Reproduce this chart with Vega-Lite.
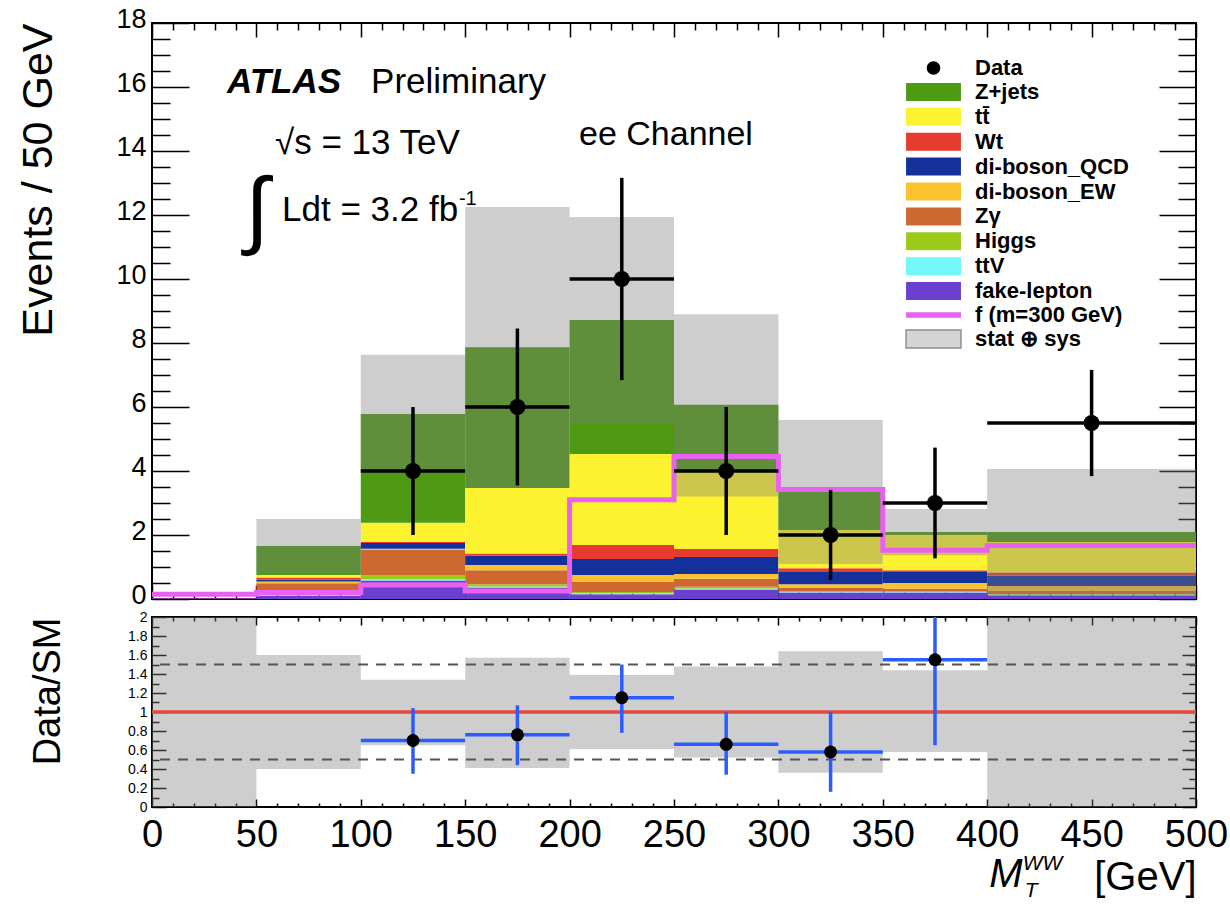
{
  "$schema": "https://vega.github.io/schema/vega-lite/v6.json",
  "background": "white",
  "padding": {"left": 16, "top": 4, "right": 5, "bottom": 5},
  "spacing": 18,
  "bounds": "flush",
  "config": {
    "view": {"stroke": "black", "strokeWidth": 2},
    "font": "Liberation Sans",
    "axis": {"domain": false, "grid": false, "tickColor": "black", "tickWidth": 1.5, "labelColor": "black", "titleColor": "black", "labelFont": "Liberation Sans", "titleFont": "Liberation Sans", "titleFontWeight": "normal", "labelFlush": false, "labelOverlap": false, "labelBound": false}
  },
  "datasets": {
    "stack": [
      {"lo": 0, "hi": 50, "process": "fake-lepton", "value": 0.02},
      {"lo": 0, "hi": 50, "process": "Zγ", "value": 0.01},
      {"lo": 50, "hi": 100, "process": "fake-lepton", "value": 0.1},
      {"lo": 50, "hi": 100, "process": "ttV", "value": 0.01},
      {"lo": 50, "hi": 100, "process": "Higgs", "value": 0.03},
      {"lo": 50, "hi": 100, "process": "Zγ", "value": 0.35},
      {"lo": 50, "hi": 100, "process": "di-boson_EW", "value": 0.06},
      {"lo": 50, "hi": 100, "process": "di-boson_QCD", "value": 0.06},
      {"lo": 50, "hi": 100, "process": "Wt", "value": 0.06},
      {"lo": 50, "hi": 100, "process": "tt̄", "value": 0.08},
      {"lo": 50, "hi": 100, "process": "Z+jets", "value": 0.91},
      {"lo": 100, "hi": 150, "process": "fake-lepton", "value": 0.58},
      {"lo": 100, "hi": 150, "process": "ttV", "value": 0.04},
      {"lo": 100, "hi": 150, "process": "Higgs", "value": 0.13},
      {"lo": 100, "hi": 150, "process": "Zγ", "value": 0.78},
      {"lo": 100, "hi": 150, "process": "di-boson_EW", "value": 0.04},
      {"lo": 100, "hi": 150, "process": "di-boson_QCD", "value": 0.18},
      {"lo": 100, "hi": 150, "process": "Wt", "value": 0.04},
      {"lo": 100, "hi": 150, "process": "tt̄", "value": 0.59},
      {"lo": 100, "hi": 150, "process": "Z+jets", "value": 3.4},
      {"lo": 150, "hi": 200, "process": "fake-lepton", "value": 0.36},
      {"lo": 150, "hi": 200, "process": "ttV", "value": 0.03},
      {"lo": 150, "hi": 200, "process": "Higgs", "value": 0.07},
      {"lo": 150, "hi": 200, "process": "Zγ", "value": 0.44},
      {"lo": 150, "hi": 200, "process": "di-boson_EW", "value": 0.16},
      {"lo": 150, "hi": 200, "process": "di-boson_QCD", "value": 0.3},
      {"lo": 150, "hi": 200, "process": "Wt", "value": 0.06},
      {"lo": 150, "hi": 200, "process": "tt̄", "value": 2.05},
      {"lo": 150, "hi": 200, "process": "Z+jets", "value": 4.4},
      {"lo": 200, "hi": 250, "process": "fake-lepton", "value": 0.15},
      {"lo": 200, "hi": 250, "process": "ttV", "value": 0.03},
      {"lo": 200, "hi": 250, "process": "Higgs", "value": 0.04},
      {"lo": 200, "hi": 250, "process": "Zγ", "value": 0.31},
      {"lo": 200, "hi": 250, "process": "di-boson_EW", "value": 0.22},
      {"lo": 200, "hi": 250, "process": "di-boson_QCD", "value": 0.5},
      {"lo": 200, "hi": 250, "process": "Wt", "value": 0.44},
      {"lo": 200, "hi": 250, "process": "tt̄", "value": 2.84},
      {"lo": 200, "hi": 250, "process": "Z+jets", "value": 4.19},
      {"lo": 250, "hi": 300, "process": "fake-lepton", "value": 0.3},
      {"lo": 250, "hi": 300, "process": "ttV", "value": 0.03},
      {"lo": 250, "hi": 300, "process": "Higgs", "value": 0.05},
      {"lo": 250, "hi": 300, "process": "Zγ", "value": 0.25},
      {"lo": 250, "hi": 300, "process": "di-boson_EW", "value": 0.15},
      {"lo": 250, "hi": 300, "process": "di-boson_QCD", "value": 0.53},
      {"lo": 250, "hi": 300, "process": "Wt", "value": 0.25},
      {"lo": 250, "hi": 300, "process": "tt̄", "value": 2.41},
      {"lo": 250, "hi": 300, "process": "Z+jets", "value": 2.1},
      {"lo": 300, "hi": 350, "process": "fake-lepton", "value": 0.2},
      {"lo": 300, "hi": 350, "process": "ttV", "value": 0.02},
      {"lo": 300, "hi": 350, "process": "Higgs", "value": 0.02},
      {"lo": 300, "hi": 350, "process": "Zγ", "value": 0.1},
      {"lo": 300, "hi": 350, "process": "di-boson_EW", "value": 0.12},
      {"lo": 300, "hi": 350, "process": "di-boson_QCD", "value": 0.38},
      {"lo": 300, "hi": 350, "process": "Wt", "value": 0.12},
      {"lo": 300, "hi": 350, "process": "tt̄", "value": 1.2},
      {"lo": 300, "hi": 350, "process": "Z+jets", "value": 1.18},
      {"lo": 350, "hi": 400, "process": "fake-lepton", "value": 0.2},
      {"lo": 350, "hi": 400, "process": "ttV", "value": 0.02},
      {"lo": 350, "hi": 400, "process": "Higgs", "value": 0.02},
      {"lo": 350, "hi": 400, "process": "Zγ", "value": 0.08},
      {"lo": 350, "hi": 400, "process": "di-boson_EW", "value": 0.18},
      {"lo": 350, "hi": 400, "process": "di-boson_QCD", "value": 0.34},
      {"lo": 350, "hi": 400, "process": "Wt", "value": 0.06},
      {"lo": 350, "hi": 400, "process": "tt̄", "value": 1.1},
      {"lo": 350, "hi": 400, "process": "Z+jets", "value": 0.09},
      {"lo": 400, "hi": 500, "process": "fake-lepton", "value": 0.12},
      {"lo": 400, "hi": 500, "process": "ttV", "value": 0.02},
      {"lo": 400, "hi": 500, "process": "Higgs", "value": 0.02},
      {"lo": 400, "hi": 500, "process": "Zγ", "value": 0.1},
      {"lo": 400, "hi": 500, "process": "di-boson_EW", "value": 0.15},
      {"lo": 400, "hi": 500, "process": "di-boson_QCD", "value": 0.32},
      {"lo": 400, "hi": 500, "process": "Wt", "value": 0.1},
      {"lo": 400, "hi": 500, "process": "tt̄", "value": 0.95},
      {"lo": 400, "hi": 500, "process": "Z+jets", "value": 0.31}
    ],
    "band": [
      {"lo": 50, "hi": 100, "down": 0.82, "up": 2.5},
      {"lo": 100, "hi": 150, "down": 3.93, "up": 7.63},
      {"lo": 150, "hi": 200, "down": 3.49, "up": 12.25},
      {"lo": 200, "hi": 250, "down": 5.5, "up": 11.94},
      {"lo": 250, "hi": 300, "down": 3.2, "up": 8.9},
      {"lo": 300, "hi": 350, "down": 1.09, "up": 5.59},
      {"lo": 350, "hi": 400, "down": 1.37, "up": 2.81},
      {"lo": 400, "hi": 500, "down": 0.12, "up": 4.06}
    ],
    "sig": [
      {"edge": 0, "v": 0.15},
      {"edge": 50, "v": 0.2},
      {"edge": 100, "v": 0.44},
      {"edge": 150, "v": 0.25},
      {"edge": 200, "v": 3.1},
      {"edge": 250, "v": 4.45},
      {"edge": 300, "v": 3.42},
      {"edge": 350, "v": 1.52},
      {"edge": 400, "v": 1.67},
      {"edge": 500, "v": 1.67}
    ],
    "obs": [
      {"c": 125, "n": 4, "elo": 2, "ehi": 6, "xlo": 100, "xhi": 150},
      {"c": 175, "n": 6, "elo": 3.55, "ehi": 8.45, "xlo": 150, "xhi": 200},
      {"c": 225, "n": 10, "elo": 6.84, "ehi": 13.16, "xlo": 200, "xhi": 250},
      {"c": 275, "n": 4, "elo": 2, "ehi": 6, "xlo": 250, "xhi": 300},
      {"c": 325, "n": 2, "elo": 0.59, "ehi": 3.41, "xlo": 300, "xhi": 350},
      {"c": 375, "n": 3, "elo": 1.27, "ehi": 4.73, "xlo": 350, "xhi": 400},
      {"c": 450, "n": 5.5, "elo": 3.84, "ehi": 7.16, "xlo": 400, "xhi": 500}
    ],
    "ratio": [
      {"c": 125, "r": 0.7, "elo": 0.35, "ehi": 1.04, "xlo": 100, "xhi": 150},
      {"c": 175, "r": 0.76, "elo": 0.44, "ehi": 1.07, "xlo": 150, "xhi": 200},
      {"c": 225, "r": 1.15, "elo": 0.78, "ehi": 1.5, "xlo": 200, "xhi": 250},
      {"c": 275, "r": 0.66, "elo": 0.34, "ehi": 1.0, "xlo": 250, "xhi": 300},
      {"c": 325, "r": 0.58, "elo": 0.16, "ehi": 1.0, "xlo": 300, "xhi": 350},
      {"c": 375, "r": 1.55, "elo": 0.65, "ehi": 2.42, "xlo": 350, "xhi": 400}
    ],
    "rband": [
      {"lo": 0, "hi": 50, "down": 0, "up": 2},
      {"lo": 50, "hi": 100, "down": 0.4, "up": 1.6},
      {"lo": 100, "hi": 150, "down": 0.65, "up": 1.34},
      {"lo": 150, "hi": 200, "down": 0.41, "up": 1.57},
      {"lo": 200, "hi": 250, "down": 0.61, "up": 1.39},
      {"lo": 250, "hi": 300, "down": 0.52, "up": 1.48},
      {"lo": 300, "hi": 350, "down": 0.36, "up": 1.64},
      {"lo": 350, "hi": 400, "down": 0.58, "up": 1.44},
      {"lo": 400, "hi": 500, "down": 0, "up": 2}
    ],
    "dash": [{"r": 0.5}, {"r": 1.5}],
    "one": [{}]
  },
  "vconcat": [
    {
      "width": 1044,
      "height": 576,
      "resolve": {"axis": {"x": "independent", "y": "independent"}},
      "layer": [
        {
          "data": {"name": "stack"},
          "transform": [{"stack": "value", "groupby": ["lo"], "as": ["s0", "s1"]}],
          "mark": {"type": "rect"},
          "encoding": {
            "x": {"field": "lo", "type": "quantitative", "scale": {"domain": [0, 500], "nice": false, "zero": false},
                  "axis": {"orient": "bottom", "values": [0,50,100,150,200,250,300,350,400,450,500], "labels": false, "tickSize": -14, "title": null}},
            "x2": {"field": "hi"},
            "y": {"field": "s0", "type": "quantitative", "scale": {"domain": [0, 18], "nice": false},
                  "axis": {"orient": "left", "values": [0,2,4,6,8,10,12,14,16,18], "format": "d", "tickSize": -37, "labelPadding": 43, "labelFontSize": 27, "labelOffset": -4,
                           "title": "Events / 50 GeV", "titleFontSize": 43, "titleX": -101, "titleY": 0, "titleAlign": "right", "titleBaseline": "alphabetic", "titleAngle": 270}},
            "y2": {"field": "s1"},
            "color": {
              "field": "process", "type": "nominal",
              "scale": {
                "domain": ["Data", "Z+jets", "tt̄", "Wt", "di-boson_QCD", "di-boson_EW", "Zγ", "Higgs", "ttV", "fake-lepton", "f (m=300 GeV)", "stat ⊕ sys"],
                "range": ["#000000", "#4e9a12", "#fdf22f", "#e63c30", "#13309b", "#fbc12e", "#cd6830", "#9cc91a", "#72f8f8", "#6b3fd0", "#e961f0", "#d4d4d4"]
              },
              "legend": {
                "orient": "none", "legendX": 770.5, "legendY": 34, "title": null, "direction": "vertical",
                "labelFont": "Liberation Sans", "labelFontSize": 22, "labelFontWeight": "bold", "labelColor": "black", "labelLimit": 400,
                "symbolSize": 324, "rowPadding": 0.9, "labelOffset": 30.5, "symbolOffset": 0, "padding": 0,
                "encode": {
                  "symbols": {
                    "update": {
                      "shape": {"signal": "datum.value === 'Data' ? 'M0.75,0A0.75,0.75 0 1,1 -0.75,0A0.75,0.75 0 1,1 0.75,0Z' : (datum.value === 'f (m=300 GeV)' ? 'M-3.05,-0.3H3.05V0.3H-3.05Z' : 'M-3.05,-1H3.05V1H-3.05Z')"},
                      "stroke": {"signal": "datum.value === 'stat ⊕ sys' ? '#8f8f8f' : 'transparent'"},
                      "strokeWidth": {"value": 1.5},
                      "opacity": {"value": 1}
                    }
                  }
                }
              }
            }
          }
        },
        {
          "data": {"name": "band"},
          "mark": {"type": "rect", "color": "#7f7f7f", "opacity": 0.38},
          "encoding": {
            "x": {"field": "lo", "type": "quantitative", "scale": {"domain": [0, 500], "nice": false, "zero": false},
                  "axis": {"orient": "bottom", "values": [10,20,30,40,60,70,80,90,110,120,130,140,160,170,180,190,210,220,230,240,260,270,280,290,310,320,330,340,360,370,380,390,410,420,430,440,460,470,480,490], "labels": false, "tickSize": -7, "title": null}},
            "x2": {"field": "hi"},
            "y": {"field": "down", "type": "quantitative", "scale": {"domain": [0, 18], "nice": false},
                  "axis": {"orient": "left", "values": [0.5,1,1.5,2.5,3,3.5,4.5,5,5.5,6.5,7,7.5,8.5,9,9.5,10.5,11,11.5,12.5,13,13.5,14.5,15,15.5,16.5,17,17.5], "labels": false, "tickSize": -18, "title": null}},
            "y2": {"field": "up"}
          }
        },
        {
          "data": {"name": "sig"},
          "mark": {"type": "line", "interpolate": "step-after", "color": "#e961f0", "strokeWidth": 5},
          "encoding": {
            "x": {"field": "edge", "type": "quantitative", "scale": {"domain": [0, 500], "nice": false, "zero": false},
                  "axis": {"orient": "top", "values": [0,50,100,150,200,250,300,350,400,450,500], "labels": false, "tickSize": -14, "title": null}},
            "y": {"field": "v", "type": "quantitative", "scale": {"domain": [0, 18], "nice": false},
                  "axis": {"orient": "right", "values": [0,2,4,6,8,10,12,14,16,18], "labels": false, "tickSize": -37, "title": null}}
          }
        },
        {
          "data": {"name": "obs"},
          "mark": {"type": "rule", "color": "black", "strokeWidth": 3.5},
          "encoding": {
            "x": {"field": "c", "type": "quantitative", "scale": {"domain": [0, 500], "nice": false, "zero": false},
                  "axis": {"orient": "top", "values": [10,20,30,40,60,70,80,90,110,120,130,140,160,170,180,190,210,220,230,240,260,270,280,290,310,320,330,340,360,370,380,390,410,420,430,440,460,470,480,490], "labels": false, "tickSize": -7, "title": null}},
            "y": {"field": "elo", "type": "quantitative", "scale": {"domain": [0, 18], "nice": false},
                  "axis": {"orient": "right", "values": [0.5,1,1.5,2.5,3,3.5,4.5,5,5.5,6.5,7,7.5,8.5,9,9.5,10.5,11,11.5,12.5,13,13.5,14.5,15,15.5,16.5,17,17.5], "labels": false, "tickSize": -18, "title": null}},
            "y2": {"field": "ehi"}
          }
        },
        {
          "data": {"name": "obs"},
          "mark": {"type": "rule", "color": "black", "strokeWidth": 3.5},
          "encoding": {
            "x": {"field": "xlo", "type": "quantitative", "scale": {"domain": [0, 500], "nice": false, "zero": false}, "axis": null},
            "x2": {"field": "xhi"},
            "y": {"field": "n", "type": "quantitative", "scale": {"domain": [0, 18], "nice": false}, "axis": null}
          }
        },
        {
          "data": {"name": "obs"},
          "mark": {"type": "point", "filled": true, "color": "black", "opacity": 1, "size": 256},
          "encoding": {
            "x": {"field": "c", "type": "quantitative", "scale": {"domain": [0, 500], "nice": false, "zero": false}, "axis": null},
            "y": {"field": "n", "type": "quantitative", "scale": {"domain": [0, 18], "nice": false}, "axis": null}
          }
        },
        {
          "data": {"name": "one"},
          "mark": {"type": "text", "text": "ATLAS", "font": "Liberation Sans", "fontSize": 35, "fontWeight": "bold", "fontStyle": "italic", "align": "left", "baseline": "middle", "color": "black"},
          "encoding": {"x": {"datum": 35.9, "type": "quantitative", "axis": null}, "y": {"datum": 16.15, "type": "quantitative", "axis": null}}
        },
        {
          "data": {"name": "one"},
          "mark": {"type": "text", "text": "Preliminary", "font": "Liberation Sans", "fontSize": 35, "align": "left", "baseline": "middle", "color": "black"},
          "encoding": {"x": {"datum": 104.9, "type": "quantitative", "axis": null}, "y": {"datum": 16.15, "type": "quantitative", "axis": null}}
        },
        {
          "data": {"name": "one"},
          "mark": {"type": "text", "text": "√s = 13 TeV", "font": "Liberation Sans", "fontSize": 35, "align": "left", "baseline": "middle", "color": "black"},
          "encoding": {"x": {"datum": 58.9, "type": "quantitative", "axis": null}, "y": {"datum": 14.25, "type": "quantitative", "axis": null}}
        },
        {
          "data": {"name": "one"},
          "mark": {"type": "text", "text": "ee Channel", "font": "Liberation Sans", "fontSize": 34, "align": "left", "baseline": "middle", "color": "black"},
          "encoding": {"x": {"datum": 204.5, "type": "quantitative", "axis": null}, "y": {"datum": 14.5, "type": "quantitative", "axis": null}}
        },
        {
          "data": {"name": "one"},
          "mark": {"type": "text", "text": "∫", "font": "Liberation Sans", "fontSize": 86, "align": "center", "baseline": "middle", "color": "black"},
          "encoding": {"x": {"datum": 50.3, "type": "quantitative", "axis": null}, "y": {"datum": 12.1, "type": "quantitative", "axis": null}}
        },
        {
          "data": {"name": "one"},
          "mark": {"type": "text", "text": "Ldt = 3.2 fb", "font": "Liberation Sans", "fontSize": 35, "align": "left", "baseline": "middle", "color": "black"},
          "encoding": {"x": {"datum": 62.3, "type": "quantitative", "axis": null}, "y": {"datum": 12.15, "type": "quantitative", "axis": null}}
        },
        {
          "data": {"name": "one"},
          "mark": {"type": "text", "text": "-1", "font": "Liberation Sans", "fontSize": 20, "align": "left", "baseline": "middle", "color": "black"},
          "encoding": {"x": {"datum": 147, "type": "quantitative", "axis": null}, "y": {"datum": 12.5, "type": "quantitative", "axis": null}}
        }
      ]
    },
    {
      "width": 1044,
      "height": 190,
      "resolve": {"axis": {"x": "independent", "y": "independent"}},
      "layer": [
        {
          "data": {"name": "rband"},
          "mark": {"type": "rect", "color": "#7f7f7f", "opacity": 0.38},
          "encoding": {
            "x": {"field": "lo", "type": "quantitative", "scale": {"domain": [0, 500], "nice": false, "zero": false},
                  "axis": {"orient": "bottom", "values": [0,50,100,150,200,250,300,350,400,450,500], "format": "d", "tickSize": -8, "labelPadding": 17, "labelFontSize": 38,
                           "title": "[GeV]", "titleFontSize": 40, "titleX": 1044, "titleY": 70, "titleAlign": "right", "titleBaseline": "middle"}},
            "x2": {"field": "hi"},
            "y": {"field": "down", "type": "quantitative", "scale": {"domain": [0, 2], "nice": false},
                  "axis": {"orient": "left", "values": [0,0.2,0.4,0.6,0.8,1,1.2,1.4,1.6,1.8,2], "format": "~g", "tickSize": -14, "labelPadding": 19, "labelFontSize": 14,
                           "title": "Data/SM", "titleFontSize": 38, "titleX": -93, "titleY": 0, "titleAlign": "right", "titleBaseline": "alphabetic", "titleAngle": 270}},
            "y2": {"field": "up"}
          }
        },
        {
          "data": {"name": "dash"},
          "mark": {"type": "rule", "color": "#555555", "strokeWidth": 2, "strokeDash": [10, 8]},
          "encoding": {
            "y": {"field": "r", "type": "quantitative", "scale": {"domain": [0, 2], "nice": false},
                  "axis": {"orient": "left", "values": [0.1,0.3,0.5,0.7,0.9,1.1,1.3,1.5,1.7,1.9], "labels": false, "tickSize": -7, "title": null}}
          }
        },
        {
          "data": {"name": "one"},
          "mark": {"type": "rule", "color": "#e8473c", "strokeWidth": 3.5},
          "encoding": {
            "y": {"datum": 1, "type": "quantitative", "scale": {"domain": [0, 2], "nice": false},
                  "axis": {"orient": "right", "values": [0,0.2,0.4,0.6,0.8,1,1.2,1.4,1.6,1.8,2], "labels": false, "tickSize": -14, "title": null}}
          }
        },
        {
          "data": {"name": "ratio"},
          "mark": {"type": "rule", "color": "#2b5cff", "strokeWidth": 3.5, "clip": true},
          "encoding": {
            "x": {"field": "c", "type": "quantitative", "scale": {"domain": [0, 500], "nice": false, "zero": false},
                  "axis": {"orient": "top", "values": [0,50,100,150,200,250,300,350,400,450,500], "labels": false, "tickSize": -8, "title": null}},
            "y": {"field": "elo", "type": "quantitative", "scale": {"domain": [0, 2], "nice": false},
                  "axis": {"orient": "right", "values": [0.1,0.3,0.5,0.7,0.9,1.1,1.3,1.5,1.7,1.9], "labels": false, "tickSize": -7, "title": null}},
            "y2": {"field": "ehi"}
          }
        },
        {
          "data": {"name": "ratio"},
          "mark": {"type": "rule", "color": "#2b5cff", "strokeWidth": 3.5},
          "encoding": {
            "x": {"field": "xlo", "type": "quantitative", "scale": {"domain": [0, 500], "nice": false, "zero": false},
                  "axis": {"orient": "bottom", "values": [10,20,30,40,60,70,80,90,110,120,130,140,160,170,180,190,210,220,230,240,260,270,280,290,310,320,330,340,360,370,380,390,410,420,430,440,460,470,480,490], "labels": false, "tickSize": -4, "title": null}},
            "x2": {"field": "xhi"},
            "y": {"field": "r", "type": "quantitative", "scale": {"domain": [0, 2], "nice": false}, "axis": null}
          }
        },
        {
          "data": {"name": "ratio"},
          "mark": {"type": "point", "filled": true, "color": "black", "opacity": 1, "size": 169},
          "encoding": {
            "x": {"field": "c", "type": "quantitative", "scale": {"domain": [0, 500], "nice": false, "zero": false},
                  "axis": {"orient": "top", "values": [10,20,30,40,60,70,80,90,110,120,130,140,160,170,180,190,210,220,230,240,260,270,280,290,310,320,330,340,360,370,380,390,410,420,430,440,460,470,480,490], "labels": false, "tickSize": -4, "title": null}},
            "y": {"field": "r", "type": "quantitative", "scale": {"domain": [0, 2], "nice": false}, "axis": null}
          }
        },
        {
          "data": {"name": "one"},
          "mark": {"type": "text", "text": "M", "font": "Liberation Sans", "fontSize": 40, "fontStyle": "italic", "align": "center", "baseline": "middle", "color": "black"},
          "encoding": {"x": {"datum": 409, "type": "quantitative", "axis": null}, "y": {"datum": -0.72, "type": "quantitative", "axis": null}}
        },
        {
          "data": {"name": "one"},
          "mark": {"type": "text", "text": "WW", "font": "Liberation Sans", "fontSize": 21, "fontStyle": "italic", "align": "left", "baseline": "middle", "color": "black"},
          "encoding": {"x": {"datum": 417, "type": "quantitative", "axis": null}, "y": {"datum": -0.6, "type": "quantitative", "axis": null}}
        },
        {
          "data": {"name": "one"},
          "mark": {"type": "text", "text": "T", "font": "Liberation Sans", "fontSize": 21, "fontStyle": "italic", "align": "left", "baseline": "middle", "color": "black"},
          "encoding": {"x": {"datum": 418, "type": "quantitative", "axis": null}, "y": {"datum": -0.88, "type": "quantitative", "axis": null}}
        }
      ]
    }
  ]
}
